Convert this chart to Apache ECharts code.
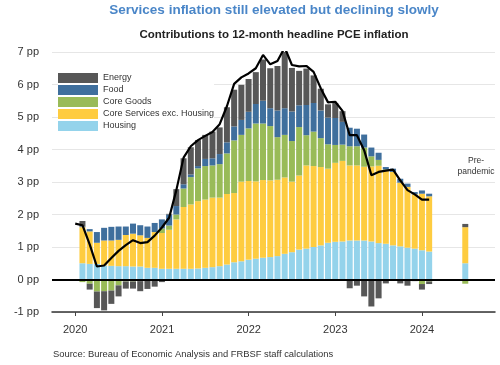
<!DOCTYPE html>
<html>
<head>
<meta charset="utf-8">
<script src="https://cdn.jsdelivr.net/npm/echarts@6/dist/echarts.min.js"></script>
<style>html,body{margin:0;padding:0;background:#fff;}#c{width:500px;height:365px;}</style>
</head>
<body>
<div id="c"></div>
<script>
// Months: index 0 = Jan 2020 ... index 49 = Feb 2024
const yearLabels = ['2020', '2021', '2022', '2023', '2024'];
const seriesNames = ['Energy', 'Food', 'Core Goods', 'Core Services exc. Housing', 'Housing'];

// Headline PCE 12-month inflation, Jan 2020 - Feb 2024
const headline = [
  1.72, 1.67, 1.08, 0.40, 0.43, 0.66, 0.88, 1.06, 1.21, 1.12, 1.15, 1.35,
  1.60, 1.90, 2.75, 3.75, 4.10, 4.29, 4.42, 4.54, 4.78, 5.33, 6.02, 6.22,
  6.34, 6.50, 6.91, 6.62, 6.72, 7.14, 6.60, 6.56, 6.57, 6.39, 5.88, 5.45,
  5.47, 5.19, 4.44, 4.44, 3.98, 3.21, 3.31, 3.35, 3.38, 3.05, 2.75, 2.62,
  2.46, 2.46
];

// Contributions, Feb 2020 - Feb 2024
const housing = [
  0.50, 0.48, 0.48, 0.43, 0.42, 0.41, 0.41, 0.40, 0.40, 0.36, 0.36,
  0.33, 0.33, 0.33, 0.33, 0.33, 0.34, 0.36, 0.38, 0.41, 0.46, 0.53, 0.56,
  0.61, 0.64, 0.67, 0.69, 0.72, 0.79, 0.84, 0.92, 0.95, 1.00, 1.05, 1.13,
  1.16, 1.17, 1.20, 1.20, 1.20, 1.17, 1.12, 1.10, 1.05, 1.02, 0.98, 0.95,
  0.90, 0.86
];
const coreServices = [
  1.11, 1.00, 0.65, 0.77, 0.78, 0.81, 0.96, 1.01, 0.96, 0.92, 1.10,
  1.10, 1.20, 1.52, 1.90, 1.98, 2.07, 2.10, 2.14, 2.11, 2.17, 2.13, 2.45,
  2.42, 2.38, 2.39, 2.36, 2.35, 2.35, 2.17, 2.28, 2.56, 2.49, 2.41, 2.28,
  2.43, 2.48, 2.31, 2.31, 2.27, 2.31, 2.38, 2.24, 2.26, 1.96, 1.87, 1.67,
  1.74, 1.70
];
const coreGoods = [
  -0.08, -0.13, -0.37, -0.36, -0.34, -0.18, -0.06, -0.06, -0.05, -0.03, -0.02,
  0.14, 0.13, 0.15, 0.57, 0.84, 1.01, 1.03, 0.99, 1.03, 1.25, 1.62, 1.44,
  1.62, 1.78, 1.74, 1.67, 1.31, 1.31, 1.25, 1.49, 0.93, 1.06, 0.89, 0.75,
  0.55, 0.50, 0.59, 0.59, 0.59, 0.31, 0.18, 0.05, 0.00, 0.00, 0.00, -0.02,
  -0.14, -0.06
];
const food = [
  0.02, 0.07, 0.33, 0.39, 0.42, 0.41, 0.26, 0.31, 0.31, 0.35, 0.28,
  0.28, 0.34, 0.26, 0.13, 0.08, 0.07, 0.22, 0.22, 0.31, 0.34, 0.43, 0.46,
  0.51, 0.60, 0.70, 0.55, 0.82, 0.82, 0.91, 0.67, 0.93, 0.88, 0.85, 0.82,
  0.83, 0.70, 0.57, 0.54, 0.40, 0.27, 0.22, 0.07, 0.10, 0.12, 0.10, 0.07,
  0.10, 0.08
];
const energy = [
  0.17, -0.18, -0.51, -0.59, -0.41, -0.34, -0.22, -0.22, -0.31, -0.26, -0.20,
  -0.08, 0.02, 0.52, 0.80, 0.84, 0.80, 0.74, 0.82, 0.82, 1.08, 1.13, 1.08,
  1.01, 0.98, 1.27, 1.23, 1.37, 1.78, 1.34, 1.06, 1.12, 0.85, 0.67, 0.41,
  0.46, 0.33, -0.27, -0.19, -0.52, -0.83, -0.58, -0.12, 0.00, -0.12, -0.19, -0.03,
  -0.17, -0.08
];
// Pre-pandemic average contributions
const prePandemic = { housing: 0.50, coreServices: 1.11, coreGoods: -0.13, food: 0.00, energy: 0.10 };

const T0 = Date.UTC(2020, 0, 1);
const MONTH = 365.25 / 12 * 86400000;
const mt = m => T0 + m * MONTH;   // month index -> time value
const PRE_M = 54;      // position of pre-pandemic bar (month units)
const SEP_M = 50.9;    // separator line
const FONT = 'Liberation Sans, Arial, sans-serif';

function pairs(arr, pre) {
  const d = arr.map((v, i) => [mt(i + 1), v]);
  d.push([mt(PRE_M), pre]);
  return d;
}
const colors = {
  'Energy': '#575757',
  'Food': '#3f6f9d',
  'Core Goods': '#99bb58',
  'Core Services exc. Housing': '#fecc40',
  'Housing': '#94d3eb'
};
const barDefs = [
  ['Housing', housing, prePandemic.housing],
  ['Core Services exc. Housing', coreServices, prePandemic.coreServices],
  ['Core Goods', coreGoods, prePandemic.coreGoods],
  ['Food', food, prePandemic.food],
  ['Energy', energy, prePandemic.energy]
];
const series = barDefs.map(([name, arr, pre]) => ({
  name: name,
  type: 'bar',
  stack: 'total',
  barWidth: 6,
  itemStyle: { color: colors[name] },
  data: pairs(arr, pre),
  z: 2
}));
series.push({
  name: 'Headline',
  type: 'line',
  data: headline.map((v, i) => [mt(i), v]),
  symbol: 'none',
  lineStyle: { color: '#000', width: 2.2 },
  z: 10,
  markLine: {
    silent: true,
    symbol: 'none',
    label: { show: false },
    data: [
      { yAxis: 0, lineStyle: { color: '#000', width: 2, type: 'solid' } },
      [{ coord: [mt(SEP_M), 7.15], lineStyle: { color: '#000', width: 3, type: 'solid' } }, { coord: [mt(SEP_M), -0.85] }]
    ]
  }
});

const chart = echarts.init(document.getElementById('c'), null, { renderer: 'canvas' });
chart.setOption({
  animation: false,
  useUTC: true,
  backgroundColor: '#fff',
  textStyle: { fontFamily: FONT },
  grid: { left: 52, right: 5, top: 52, bottom: 53 },
  legend: {
    data: seriesNames,
    orient: 'vertical',
    left: 58,
    top: 73,
    itemWidth: 40,
    itemHeight: 10,
    itemGap: 2,
    padding: 0,
    icon: 'rect',
    backgroundColor: '#fff',
    textStyle: { fontSize: 9, color: '#333', fontFamily: FONT }
  },
  xAxis: {
    type: 'time',
    min: mt(-2.8),
    max: mt(57.7),
    minInterval: 365 * 86400000,
    maxInterval: 366 * 86400000,
    splitLine: { show: false },
    axisLine: { onZero: false, lineStyle: { color: '#333', width: 1.5 } },
    axisTick: { show: true, length: 4, lineStyle: { color: '#444' } },
    axisLabel: {
      formatter: v => yearLabels[new Date(v).getUTCFullYear() - 2020] || String(new Date(v).getUTCFullYear()),
      fontSize: 11, color: '#333', margin: 12, fontFamily: FONT,
      fontWeight: 'normal'
    }
  },
  yAxis: {
    type: 'value',
    min: -1,
    max: 7,
    interval: 1,
    axisLine: { show: false },
    axisTick: { show: false },
    splitLine: { lineStyle: { color: '#e6e6e6', width: 1 } },
    axisLabel: { formatter: '{value} pp', fontSize: 11, color: '#333', margin: 13, fontFamily: FONT }
  },
  graphic: [
    { type: 'text', x: 274, y: 10, style: { text: 'Services inflation still elevated but declining slowly', fill: '#4a86c8', font: 'bold 13.5px ' + FONT, textAlign: 'center', textVerticalAlign: 'middle' } },
    { type: 'text', x: 274, y: 35, style: { text: 'Contributions to 12-month headline PCE inflation', fill: '#222', font: 'bold 11.5px ' + FONT, textAlign: 'center', textVerticalAlign: 'middle' } },
    { type: 'text', x: 53, y: 354, style: { text: 'Source: Bureau of Economic Analysis and FRBSF staff calculations', fill: '#333', font: '9.4px ' + FONT, textAlign: 'left', textVerticalAlign: 'middle' } },
    { type: 'text', x: 476, y: 166, style: { text: 'Pre-\npandemic', fill: '#333', font: '8.5px ' + FONT, textAlign: 'center', textVerticalAlign: 'middle', lineHeight: 11 } }
  ],
  series: series
});
</script>
</body>
</html>
